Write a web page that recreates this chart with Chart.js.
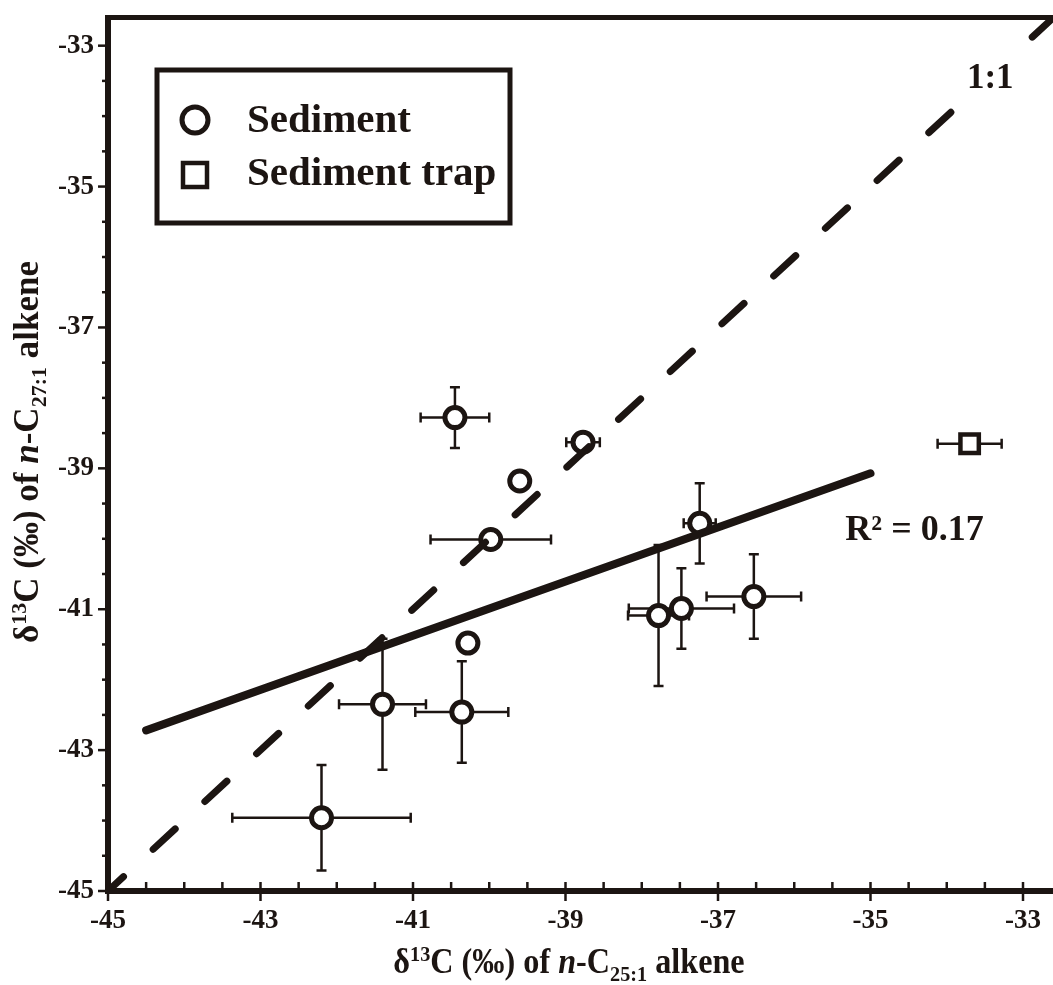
<!DOCTYPE html>
<html>
<head>
<meta charset="utf-8">
<script src="https://cdn.jsdelivr.net/npm/chart.js@4.4.0/dist/chart.umd.min.js"></script>
<style>
html, body { margin: 0; padding: 0; background: #fff; overflow: hidden; width: 1053px; height: 985px; }
</style>
</head>
<body>
<canvas id="myChart" width="1071" height="985"></canvas>
<script>
// values
const sedimentX    = [-40.45, -38.77, -39.60, -39.98, -37.24, -37.78, -37.48, -36.53, -40.28, -41.40, -40.36, -42.20];
const sedimentY    = [-38.28, -38.63, -39.18, -40.01, -39.78, -41.09, -40.99, -40.82, -41.48, -42.35, -42.46, -43.96];
const sedimentXErr = [0.45, 0.22, 0, 0.79, 0.21, 0.40, 0.69, 0.62, 0, 0.57, 0.61, 1.17];
const sedimentYErr = [0.43, 0, 0, 0, 0.57, 1.00, 0.57, 0.60, 0, 0.93, 0.72, 0.75];

const trapX    = [-33.70];
const trapY    = [-38.65];
const trapXErr = [0.42];
const trapYErr = [0];

const fitX = [-44.5, -35.0];
const fitY = [-42.72, -39.07];

const lineX = [-45, -32.6];
const lineY = [-45, -32.6];

const xTickLabels = [-45, -43, -41, -39, -37, -35, -33];
const yTickLabels = [-45, -43, -41, -39, -37, -35, -33];

const ink = '#1c1512';
const serif = '"Liberation Serif", "Times New Roman", serif';

function toPoints(xs, ys) {
  return xs.map((x, i) => ({ x: x, y: ys[i] }));
}

// error bars under the markers
const errorBars = {
  id: 'errorBars',
  beforeDatasetsDraw(chart) {
    const ctx = chart.ctx;
    const xs = chart.scales.x, ys = chart.scales.y;
    const cap = 5;
    ctx.save();
    ctx.strokeStyle = ink;
    ctx.lineWidth = 2.5;
    const sets = [[sedimentX, sedimentY, sedimentXErr, sedimentYErr], [trapX, trapY, trapXErr, trapYErr]];
    sets.forEach(s => {
      s[0].forEach((x, i) => {
        const y = s[1][i];
        const px = xs.getPixelForValue(x), py = ys.getPixelForValue(y);
        if (s[2][i] > 0) {
          const l = xs.getPixelForValue(x - s[2][i]), r = xs.getPixelForValue(x + s[2][i]);
          ctx.beginPath();
          ctx.moveTo(l, py); ctx.lineTo(r, py);
          ctx.moveTo(l, py - cap); ctx.lineTo(l, py + cap);
          ctx.moveTo(r, py - cap); ctx.lineTo(r, py + cap);
          ctx.stroke();
        }
        if (s[3][i] > 0) {
          const t = ys.getPixelForValue(y + s[3][i]), b = ys.getPixelForValue(y - s[3][i]);
          ctx.beginPath();
          ctx.moveTo(px, t); ctx.lineTo(px, b);
          ctx.moveTo(px - cap, t); ctx.lineTo(px + cap, t);
          ctx.moveTo(px - cap, b); ctx.lineTo(px + cap, b);
          ctx.stroke();
        }
      });
    });
    ctx.restore();
  }
};

function drawRich(ctx, parts, x, y, scaleX) {
  let w = 0;
  parts.forEach(p => { ctx.font = p.font; p.w = ctx.measureText(p.t).width; w += p.w; });
  ctx.save();
  ctx.translate(x, y);
  ctx.scale(scaleX, 1);
  let cx = -w / 2;
  parts.forEach(p => {
    ctx.font = p.font;
    ctx.fillText(p.t, cx, p.dy || 0);
    cx += p.w;
  });
  ctx.restore();
}

function titleParts(sub) {
  const big = 'bold 35px ' + serif, small = 'bold 22px ' + serif;
  return [
    { t: 'δ', font: big },
    { t: '13', font: small, dy: -12 },
    { t: 'C (‰) of ', font: big },
    { t: 'n', font: 'italic bold 35px ' + serif },
    { t: '-C', font: big },
    { t: sub, font: small, dy: 8 },
    { t: ' alkene', font: big }
  ];
}

const decorations = {
  id: 'decorations',
  afterDraw(chart) {
    const ctx = chart.ctx;
    const area = chart.chartArea;
    const xs = chart.scales.x, ys = chart.scales.y;
    ctx.save();
    ctx.strokeStyle = ink;
    ctx.fillStyle = ink;

    // white patch behind the 1:1 label
    ctx.fillStyle = '#fff';
    const lx = xs.getPixelForValue(-33.43), ly = ys.getPixelForValue(-33.6);
    ctx.fillRect(lx - 32, ly - 50, 70, 65);
    ctx.fillStyle = ink;

    // top frame line
    ctx.lineWidth = 5;
    ctx.beginPath();
    ctx.moveTo(area.left - 3, area.top);
    ctx.lineTo(area.right + 3, area.top);
    ctx.stroke();

    // tick marks
    xs.ticks.forEach(t => {
      const px = xs.getPixelForValue(t.value);
      const major = xTickLabels.includes(t.value);
      ctx.lineWidth = 2.5;
      ctx.beginPath();
      ctx.moveTo(px, area.bottom - 9);
      ctx.lineTo(px, area.bottom + (major ? 10 : 0));
      ctx.stroke();
    });
    ys.ticks.forEach(t => {
      const py = ys.getPixelForValue(t.value);
      const major = yTickLabels.includes(t.value);
      ctx.lineWidth = 2.5;
      ctx.beginPath();
      ctx.moveTo(area.left - (major ? 10 : 6), py);
      ctx.lineTo(area.left, py);
      ctx.stroke();
    });

    // legend box
    ctx.lineWidth = 5;
    ctx.strokeRect(157, 70, 353, 153);
    ctx.fillStyle = '#fff';
    ctx.lineWidth = 5;
    ctx.beginPath();
    ctx.arc(195, 120, 13, 0, Math.PI * 2);
    ctx.fill(); ctx.stroke();
    ctx.lineWidth = 4.5;
    ctx.fillRect(183, 163, 24, 24);
    ctx.strokeRect(183, 163, 24, 24);
    ctx.fillStyle = ink;
    ctx.font = 'bold 41px ' + serif;
    ctx.textBaseline = 'alphabetic';
    ctx.textAlign = 'left';
    ctx.fillText('Sediment', 247, 132);
    ctx.fillText('Sediment trap', 247, 185);

    // annotations
    ctx.font = 'bold 35px ' + serif;
    ctx.textAlign = 'center';
    ctx.fillText('1:1', lx, ly);
    ctx.textAlign = 'left';
    ctx.font = 'bold 36px ' + serif;
    ctx.fillText('R² = 0.17', xs.getPixelForValue(-35.33), ys.getPixelForValue(-40.02));

    // axis titles
    ctx.textAlign = 'left';
    drawRich(ctx, titleParts('25:1'), 569, 973, 0.92);
    ctx.save();
    ctx.translate(38, 452);
    ctx.rotate(-Math.PI / 2);
    drawRich(ctx, titleParts('27:1'), 0, 0, 1);
    ctx.restore();

    ctx.restore();
  }
};

function tickLabel(list) {
  return function (v) { return list.includes(v) ? String(v) : ''; };
}

function noPad(s) {
  s.paddingTop = 0; s.paddingBottom = 0; s.paddingLeft = 0; s.paddingRight = 0;
}

const config = {
  type: 'scatter',
  data: {
    datasets: [
      {
        label: '1:1',
        data: toPoints(lineX, lineY),
        showLine: true,
        pointRadius: 0,
        borderColor: ink,
        borderWidth: 7,
        borderDash: [30, 40.4],
        borderDashOffset: 8.9,
        borderCapStyle: 'round',
        order: 1
      },
      {
        label: 'fit',
        data: toPoints(fitX, fitY),
        showLine: true,
        pointRadius: 0,
        borderColor: ink,
        borderWidth: 8,
        borderCapStyle: 'round',
        order: 0
      },
      {
        label: 'Sediment',
        data: toPoints(sedimentX, sedimentY),
        pointStyle: 'circle',
        pointRadius: 10,
        borderWidth: 5,
        borderColor: ink,
        backgroundColor: '#fff',
        order: 2
      },
      {
        label: 'Sediment trap',
        data: toPoints(trapX, trapY),
        pointStyle: 'rect',
        pointRadius: 13,
        borderWidth: 4.5,
        borderColor: ink,
        backgroundColor: '#fff',
        order: 2
      }
    ]
  },
  options: {
    responsive: false,
    animation: false,
    devicePixelRatio: 1,
    layout: { padding: { top: 15, right: 0, left: 0, bottom: 0 } },
    plugins: {
      legend: { display: false },
      tooltip: { enabled: false },
      title: { display: false }
    },
    scales: {
      x: {
        type: 'linear',
        min: -45,
        max: -32.6,
        afterFit(s) { s.height = 94; noPad(s); },
        grid: { display: false, drawTicks: false },
        border: { display: true, color: ink, width: 6 },
        ticks: {
          stepSize: 0.5,
          includeBounds: false,
          autoSkip: false,
          maxRotation: 0,
          padding: 14,
          color: ink,
          font: { family: serif, weight: 'bold', size: 27 },
          callback: tickLabel(xTickLabels)
        }
      },
      y: {
        type: 'linear',
        min: -45,
        max: -32.6,
        afterFit(s) { s.width = 108; noPad(s); },
        grid: { display: false, drawTicks: false },
        border: { display: true, color: ink, width: 6 },
        ticks: {
          stepSize: 0.5,
          includeBounds: false,
          autoSkip: false,
          padding: 14,
          color: ink,
          font: { family: serif, weight: 'bold', size: 27 },
          callback: tickLabel(yTickLabels)
        }
      }
    }
  },
  plugins: [errorBars, decorations]
};

new Chart(document.getElementById('myChart'), config);
</script>
</body>
</html>
